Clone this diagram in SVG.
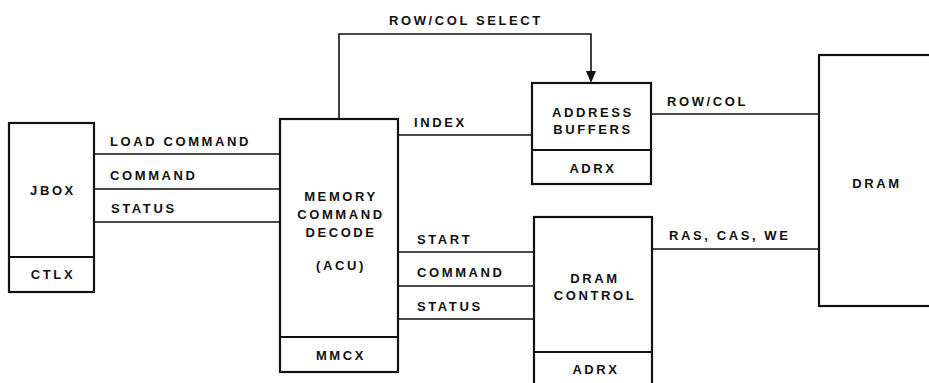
<svg xmlns="http://www.w3.org/2000/svg" width="929" height="383" viewBox="0 0 929 383">
<style>
.box{fill:#fff;stroke:#111;stroke-width:2.2}
.div{stroke:#111;stroke-width:1.8;fill:none}
.wire{stroke:#111;stroke-width:1.6;fill:none}
.head{fill:#111}
text{font-family:"Liberation Sans",Arial,sans-serif;font-weight:bold;font-size:13px;letter-spacing:2.6px;fill:#111}
.c{text-anchor:middle}
</style>
<rect width="929" height="383" fill="#fff"/>
<g id="connectors">
<path class="wire" d="M94,154 H280"/>
<path class="wire" d="M94,189 H280"/>
<path class="wire" d="M94,222 H280"/>
<path class="wire" d="M398,135 H532"/>
<path class="wire" d="M398,252 H534"/>
<path class="wire" d="M398,286 H534"/>
<path class="wire" d="M398,319 H534"/>
<path class="wire" d="M651,114 H819"/>
<path class="wire" d="M652,249 H819"/>
<path class="wire" d="M339,119 V34 H591 V73"/>
<path class="head" d="M586,71 L596,71 L591,83 Z"/>
<text x="389" y="25">ROW/COL SELECT</text>
<text x="110" y="146">LOAD COMMAND</text>
<text x="110" y="180">COMMAND</text>
<text x="111" y="213">STATUS</text>
<text x="414" y="127">INDEX</text>
<text x="417" y="244">START</text>
<text x="417" y="277">COMMAND</text>
<text x="417" y="311">STATUS</text>
<text x="667" y="106">ROW/COL</text>
<text x="669" y="240">RAS, CAS, WE</text>
</g>
<g id="jbox">
<rect class="box" x="9" y="123" width="85" height="169"/>
<path class="div" d="M9,257 H94"/>
<text class="c" x="53" y="195">JBOX</text>
<text class="c" x="53" y="279">CTLX</text>
</g>
<g id="mmcx">
<rect class="box" x="280" y="119" width="118" height="253"/>
<path class="div" d="M280,337 H398"/>
<text class="c" x="341" y="201">MEMORY</text>
<text class="c" x="341" y="219">COMMAND</text>
<text class="c" x="341" y="237">DECODE</text>
<text class="c" x="341" y="270">(ACU)</text>
<text class="c" x="341" y="360">MMCX</text>
</g>
<g id="address-buffers">
<rect class="box" x="532" y="83" width="119" height="101"/>
<path class="div" d="M532,150 H651"/>
<text class="c" x="593" y="117">ADDRESS</text>
<text class="c" x="593" y="134">BUFFERS</text>
<text class="c" x="593" y="173">ADRX</text>
</g>
<g id="dram-control">
<rect class="box" x="534" y="217" width="118" height="180"/>
<path class="div" d="M534,352 H652"/>
<text class="c" x="595" y="283">DRAM</text>
<text class="c" x="595" y="300">CONTROL</text>
<text class="c" x="596" y="374">ADRX</text>
</g>
<g id="dram">
<rect class="box" x="819" y="55" width="130" height="251"/>
<text class="c" x="877" y="188">DRAM</text>
</g>
</svg>
